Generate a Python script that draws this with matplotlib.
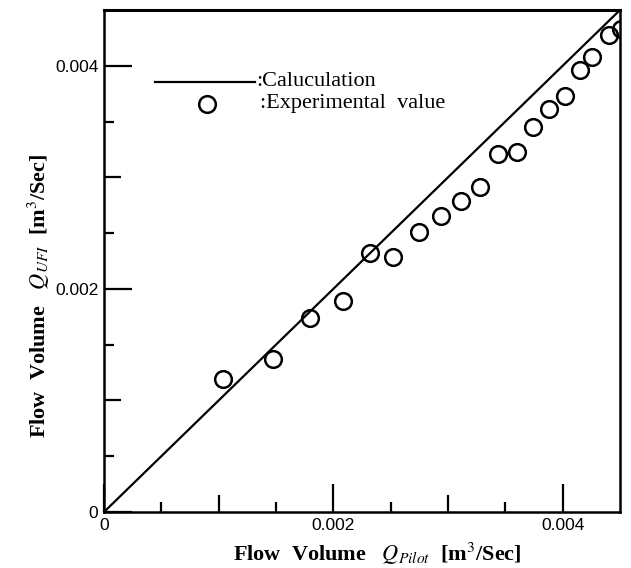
import matplotlib.pyplot as plt
import numpy as np

# measured flow volumes [m^3/Sec]
q_pitot = [0.00104, 0.00147, 0.00180, 0.00208, 0.00232, 0.00252, 0.00275,
           0.00294, 0.00311, 0.00328, 0.00344, 0.00360, 0.00374, 0.00388,
           0.00402, 0.00415, 0.00426, 0.00440, 0.00451]
q_ufi = [0.00119, 0.00137, 0.00174, 0.00189, 0.00232, 0.00229, 0.00251,
         0.00265, 0.00279, 0.00291, 0.00321, 0.00323, 0.00345, 0.00361,
         0.00373, 0.00396, 0.00408, 0.00428, 0.00433]

# calculation line
calc_x = [0.0, 0.0045]
calc_y = [0.0, 0.0045]

plt.rcParams['mathtext.fontset'] = 'stix'

fig = plt.figure(figsize=(6.31, 5.68), dpi=100)
ax = fig.add_axes([0.1648, 0.0986, 0.8178, 0.8838])

ax.plot(calc_x, calc_y, color='black', lw=1.6)
ax.plot(q_pitot, q_ufi, 'o', ms=12, mfc='none', mec='black', mew=1.8)

ax.set_xlim(0, 0.0045)
ax.set_ylim(0, 0.0045)

for s in ax.spines.values():
    s.set_linewidth(1.8)
ax.spines['top'].set_linewidth(2.2)

ticks = [0, 0.002, 0.004]
tick_labels = ['0', '0.002', '0.004']
ax.set_xticks(ticks, tick_labels)
ax.set_yticks(ticks, tick_labels)
ax.set_xticks(np.arange(0.0005, 0.0045, 0.001), minor=True)
ax.set_yticks(np.arange(0.0005, 0.0045, 0.001), minor=True)
ax.tick_params(which='major', direction='in', length=20, width=1.6,
               labelsize=12.5, pad=4)
ax.tick_params(which='minor', direction='in', length=7, width=1.6)
for lab in ax.get_xticklabels() + ax.get_yticklabels():
    lab.set_family('Liberation Sans')

# medium ticks at 0.001 and 0.003
for sec in (ax.secondary_xaxis(0), ax.secondary_yaxis(0)):
    sec.set_ticks([0.001, 0.003], ['', ''])
    sec.tick_params(direction='in', length=12, width=1.6)
    for s in sec.spines.values():
        s.set_visible(False)

# legend
ax.plot([0.099, 0.293], [0.857, 0.857], transform=ax.transAxes,
        color='black', lw=1.6)
ax.text(0.295, 0.857, ':Caluculation', transform=ax.transAxes,
        fontsize=16, family='Liberation Serif', va='center')
ax.plot([0.2], [0.813], 'o', transform=ax.transAxes, ms=12,
        mfc='none', mec='black', mew=1.8)
ax.text(0.302, 0.813, ':Experimental  value', transform=ax.transAxes,
        fontsize=16, family='Liberation Serif', va='center')

ax.set_xlabel(r'Flow  Volume   $Q_{Pilot}$  [m$^3$/Sec]',
              fontsize=16, family='Liberation Serif', fontweight='bold')
ax.xaxis.set_label_coords(0.53, -0.058)
ax.set_ylabel(r'Flow  Volume   $Q_{UFI}$  [m$^3$/Sec]',
              fontsize=16, family='Liberation Serif', fontweight='bold')
ax.yaxis.set_label_coords(-0.1, 0.43)

fig.savefig('out.png', dpi=100)
